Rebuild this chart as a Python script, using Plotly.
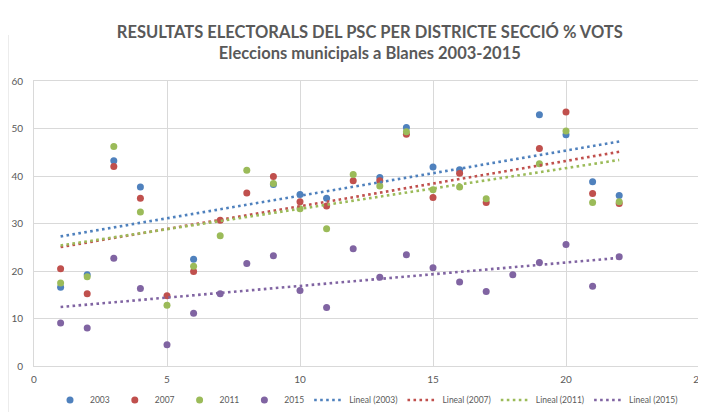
import numpy as np
import plotly.graph_objects as go

districts = list(range(1, 23))
v2003 = [16.6, 19.2, 43.2, 37.7, None, 22.5, None, None, 38.2, 36.1, 35.3,
         None, 39.7, 50.2, 41.9, 41.3, None, None, 52.9, 48.7, 38.8, 35.9]
v2007 = [20.5, 15.2, 42.0, 35.3, 14.8, 19.9, 30.7, 36.4, 39.9, 34.6, 33.7,
         39.0, 39.0, 48.8, 35.5, 40.6, 34.4, None, 45.8, 53.5, 36.3, 34.2]
v2011 = [17.5, 18.8, 46.2, 32.4, 12.8, 21.0, 27.4, 41.2, 38.4, 33.1, 28.9,
         40.3, 37.9, 49.3, 37.1, 37.7, 35.2, None, 42.6, 49.5, 34.4, 34.6]
v2015 = [9.05, 8.0, 22.7, 16.3, 4.5, 11.1, 15.2, 21.6, 23.2, 15.9, 12.3,
         24.7, 18.7, 23.4, 20.7, 17.7, 15.7, 19.2, 21.8, 25.6, 16.8, 23.0]
series_names = ["2003", "2007", "2011", "2015"]
colors = ["#4F81BD", "#C0504D", "#9BBB59", "#8064A2"]
x_ticks = [0, 5, 10, 15, 20, 25]
y_ticks = [0, 10, 20, 30, 40, 50, 60]

all_values = [v2003, v2007, v2011, v2015]
fig = go.Figure()
for name, vals, col in zip(series_names, all_values, colors):
    fig.add_trace(go.Scatter(x=districts, y=vals, mode="markers", name=name,
                             marker=dict(color=col, size=7)))

for name, vals, col in zip(series_names, all_values, colors):
    xs = np.array([d for d, v in zip(districts, vals) if v is not None], dtype=float)
    ys = np.array([v for v in vals if v is not None], dtype=float)
    slope, intercept = np.polyfit(xs, ys, 1)
    tx = [xs.min(), xs.max()]
    ty = [intercept + slope * t for t in tx]
    fig.add_trace(go.Scatter(x=tx, y=ty, mode="lines", name=f"Lineal ({name})",
                             line=dict(color=col, width=2.6, dash="2.6px,3.4px")))

W, H = 698, 404  # page body has an 8px margin in the 706x412 window
grid = "#D9D9D9"
tickfont = dict(family="Lato", size=10, color="#595959")
fig.update_layout(
    width=W, height=H,
    margin=dict(l=26, r=7, t=73, b=46, autoexpand=False),
    paper_bgcolor="white", plot_bgcolor="white",
    title=dict(text="RESULTATS ELECTORALS DEL PSC PER DISTRICTE SECCIÓ % VOTS<br>Eleccions municipals a Blanes 2003-2015",
               x=0.505, xanchor="center", xref="paper", y=1 - 30 / H, yanchor="middle",
               font=dict(family="Lato", size=16.5, color="#595959", weight="bold")),
    showlegend=True,
    legend=dict(orientation="h", x=0.5, xanchor="center", y=1 - 392 / H,
                yref="container", yanchor="middle",
                font=dict(family="Lato", size=8.5, color="#595959")),
    xaxis=dict(range=[0, 25], tickvals=x_ticks, showgrid=True, gridcolor=grid,
               showline=True, linecolor=grid, mirror=True, zeroline=False,
               tickfont=tickfont, ticks="", ticklabelstandoff=4),
    yaxis=dict(range=[0, 60], tickvals=y_ticks, showgrid=True, gridcolor=grid,
               showline=True, linecolor=grid, mirror=True, zeroline=False,
               tickfont=tickfont, ticks="", ticklabelstandoff=8),
)
fig.add_shape(type="line", xref="paper", yref="paper",
              x0=-26 / 665, x1=-26 / 665, y0=-46 / 285, y1=331 / 285,
              line=dict(color=grid, width=1))
fig.write_html("out.html")
